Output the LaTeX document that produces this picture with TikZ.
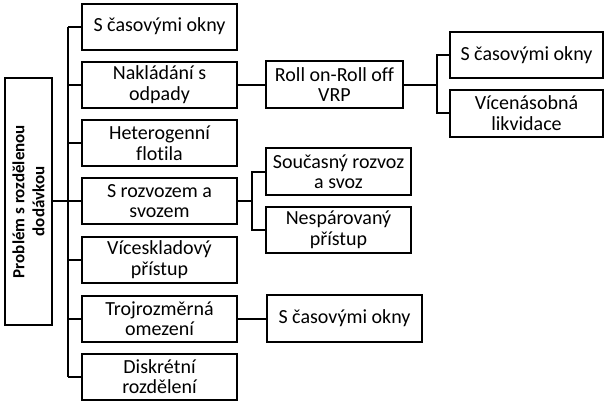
\documentclass[tikz,border=0pt]{standalone}
\usepackage{fontspec}
\setmainfont{Carlito}[Ligatures=NoCommon]
\tikzset{
  box/.style={draw=black, line width=2pt, fill=white, align=center, inner sep=1pt,
    font=\fontsize{20}{20.5}\selectfont},
  conn/.style={draw=black, line width=2pt}
}
\begin{document}
\begin{tikzpicture}[x=1pt,y=-1pt]
\useasboundingbox[fill=white] (0,0) rectangle (608,405);
% root
\node[box, minimum width=47pt, minimum height=247pt] (root) at (28.5,201.5) {};
\node[rotate=90, align=center, font=\fontsize{17}{20}\selectfont\bfseries] (rootlabel) at (28.5,201.5) {Problém s rozdělenou\\dodávkou};
% column 1
\foreach \n/\y/\t in {b1/26.5/{S časovými okny},
                      b2/84.5/{Nakládání s\\odpady},
                      b3/143/{Heterogenní\\flotila},
                      b4/201/{S rozvozem a\\svozem},
                      b5/259.5/{Víceskladový\\přístup},
                      b6/318.5/{Trojrozměrná\\omezení},
                      b7/376.5/{Diskrétní\\rozdělení}}{
  \node[box, minimum width=155pt, minimum height=46pt] (\n) at (159.5,\y) {\t};
}
% column 2
\node[box, minimum width=137pt, minimum height=47pt] (roro) at (334.5,84.5) {Roll on-Roll off\\VRP};
\node[box, minimum width=145pt, minimum height=47pt] (soucas) at (338.5,171.5) {Současný rozvoz\\a svoz};
\node[box, minimum width=145pt, minimum height=46pt] (nespar) at (338.5,230) {Nespárovaný\\přístup};
\node[box, minimum width=155pt, minimum height=47pt] (okna2) at (344.5,318.5) {S časovými okny};
% column 3
\node[box, minimum width=153pt, minimum height=46pt] (okna3) at (526.5,55) {S časovými okny};
\node[box, minimum width=153pt, minimum height=47pt] (vicen) at (526.5,113) {Vícenásobná\\likvidace};
% spine
\coordinate (spT) at (68,26.5);
\coordinate (spB) at (68,376.5);
\draw[conn] (spT) -- (spB);
\draw[conn] (root.east |- 0,201) -- (spT |- 0,201);
\foreach \n in {b1,b2,b3,b4,b5,b6,b7}{
  \draw[conn] (\n.west) -- (\n.west -| spT);
}
% column 1 to 2
\draw[conn] (b2.east) -- (roro.west);
\draw[conn] (b6.east) -- (okna2.west);
\coordinate (br4) at (252,201);
\draw[conn] (b4.east |- br4) -- (br4);
\draw[conn] (soucas.west) -| (br4) |- (nespar.west);
% column 2 to 3
\coordinate (br2) at (437,84.5);
\draw[conn] (roro.east) -- (br2);
\draw[conn] (okna3.west) -| (br2) |- (vicen.west);
\end{tikzpicture}
\end{document}
